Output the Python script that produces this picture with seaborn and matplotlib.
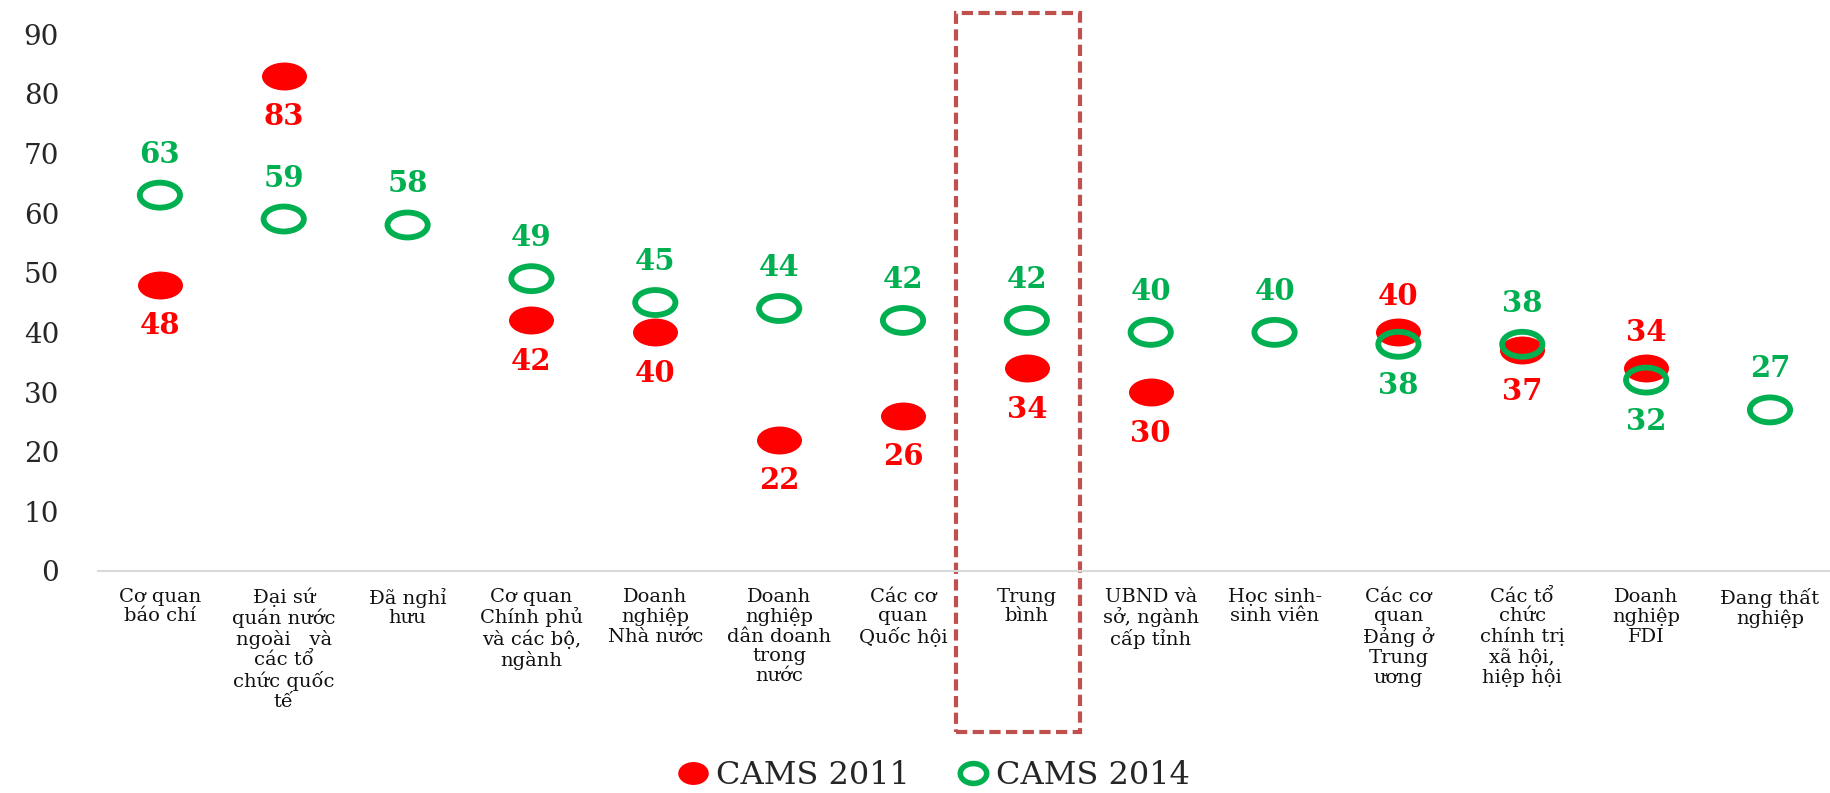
import numpy as np
import pandas as pd
import matplotlib
matplotlib.use("Agg")
import matplotlib.pyplot as plt
import seaborn as sns
from matplotlib.path import Path
from matplotlib.patches import Rectangle
from matplotlib.lines import Line2D

# -------------------------------------------------------
# Data
# -------------------------------------------------------
categories = [
    "Cơ quan\nbáo chí",
    "Đại sứ\nquán nước\nngoài   và\ncác tổ\nchức quốc\ntế",
    "Đã nghỉ\nhưu",
    "Cơ quan\nChính phủ\nvà các bộ,\nngành",
    "Doanh\nnghiệp\nNhà nước",
    "Doanh\nnghiệp\ndân doanh\ntrong\nnước",
    "Các cơ\nquan\nQuốc hội",
    "Trung\nbình",
    "UBND và\nsở, ngành\ncấp tỉnh",
    "Học sinh-\nsinh viên",
    "Các cơ\nquan\nĐảng ở\nTrung\nương",
    "Các tổ\nchức\nchính trị\nxã hội,\nhiệp hội",
    "Doanh\nnghiệp\nFDI",
    "Đang thất\nnghiệp",
]
cams_2011 = [48, 83, np.nan, 42, 40, 22, 26, 34, 30, np.nan, 40, 37, 34, np.nan]
cams_2014 = [63, 59, 58, 49, 45, 44, 42, 42, 40, 40, 38, 38, 32, 27]
highlight = "Trung\nbình"
y_ticks = [0, 10, 20, 30, 40, 50, 60, 70, 80, 90]

RED = "#FF0000"
GREEN = "#00B050"
BOX = "#C0504D"

df = pd.DataFrame({"cat": categories, "y2011": cams_2011, "y2014": cams_2014})
x_pos = np.arange(len(categories))

# flattened circle marker (the source picture is stretched sideways)
circ = Path.unit_circle()
ellipse = Path(circ.vertices * np.array([1.0, 0.62]), circ.codes)
legend_dot = Path(circ.vertices * np.array([1.0, 0.75]), circ.codes)

# -------------------------------------------------------
# Plot
# -------------------------------------------------------
sns.set_theme(style="white")
fig = plt.figure(figsize=(18.31, 7.93), dpi=100)
ax = fig.add_axes([0.0535, 0.28, 0.947, 0.677])

sns.scatterplot(x=x_pos, y=df["y2011"], ax=ax, marker=ellipse, s=1050,
                color=RED, linewidth=0, zorder=3)
sns.scatterplot(x=x_pos, y=df["y2014"], ax=ax, marker=ellipse, s=840,
                facecolor="none", edgecolor=GREEN, linewidth=4.2, zorder=4)

# value labels: green above / red below, swapped where red is just above green
for i, (r, g) in enumerate(zip(cams_2011, cams_2014)):
    swap = not np.isnan(r) and 0 <= r - g < 5
    if not np.isnan(r):
        ax.annotate(f"{r:.0f}", (i, r), xytext=(0, 36 if swap else -41),
                    textcoords="offset pixels", ha="center", va="center",
                    color=RED, fontsize=21, fontweight="bold",
                    family="DejaVu Serif", zorder=5)
    ax.annotate(f"{g:.0f}", (i, g), xytext=(0, -41 if swap else 41),
                textcoords="offset pixels", ha="center", va="center",
                color=GREEN, fontsize=21, fontweight="bold",
                family="DejaVu Serif", zorder=5)

# dashed box around the average
hi = categories.index(highlight)
ax.add_patch(Rectangle((hi - 0.57, -27), 1.0, 120.5, fill=False,
                       edgecolor=BOX, linewidth=3, linestyle=(0, (2.7, 1.3)),
                       clip_on=False, zorder=2))

ax.set_xlim(-0.5, len(categories) - 0.5)
ax.set_ylim(0, 90)
ax.set_yticks(y_ticks)
ax.set_yticklabels([str(t) for t in y_ticks], family="DejaVu Serif",
                   fontsize=20, color="#262626")
ax.set_xticks(x_pos)
ax.set_xticklabels(categories, family="DejaVu Serif", fontsize=14,
                   color="#111111", linespacing=1.12, va="top")
ax.tick_params(axis="y", length=0, pad=28)
ax.tick_params(axis="x", length=0, pad=12)
ax.set_xlabel("")
ax.set_ylabel("")
for side in ["left", "right", "top"]:
    ax.spines[side].set_visible(False)
ax.spines["bottom"].set_color("#D9D9D9")
ax.spines["bottom"].set_linewidth(1.5)

handles = [
    Line2D([], [], marker=legend_dot, linestyle="", markersize=22,
           markerfacecolor=RED, markeredgewidth=0, label="CAMS 2011"),
    Line2D([], [], marker=legend_dot, linestyle="", markersize=19,
           markerfacecolor="none", markeredgecolor=GREEN,
           markeredgewidth=4, label="CAMS 2014"),
]
fig.legend(handles=handles, loc="center", bbox_to_anchor=(0.509, 0.022),
           ncol=2, frameon=False, handletextpad=0.1, columnspacing=1.4,
           handlelength=1.2, prop={"family": "DejaVu Serif", "size": 23})

fig.savefig("out.png", dpi=100)
